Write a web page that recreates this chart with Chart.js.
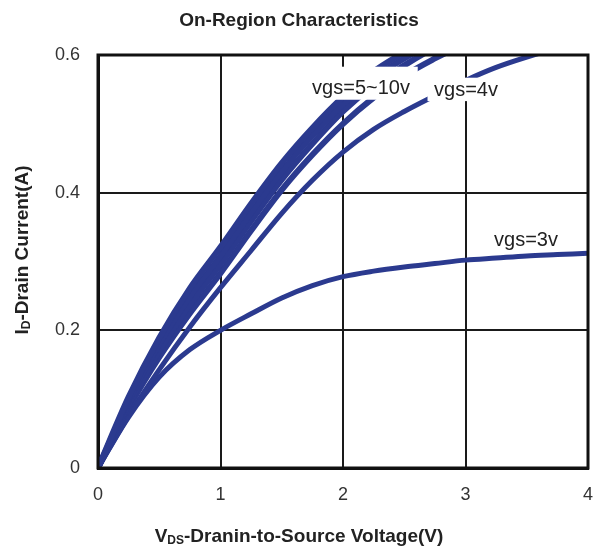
<!DOCTYPE html>
<html>
<head>
<meta charset="utf-8">
<script src="https://cdn.jsdelivr.net/npm/chart.js@4/dist/chart.umd.min.js"></script>
<style>
  html, body { margin: 0; padding: 0; background: #ffffff; }
  #c { display: block; }
</style>
</head>
<body>
<canvas id="c" width="599" height="546"></canvas>
<script>
// ---- data ----
const vds    = [0, 0.25, 0.5, 0.75, 1, 1.25, 1.5, 1.75, 2, 2.25, 2.5, 2.75, 3, 3.25, 3.5, 3.75, 4];
const vgs10  = [0, 0.103, 0.189, 0.261, 0.321, 0.384, 0.443, 0.494, 0.539, 0.576, 0.604, 0.628, 0.650];
const vgs8   = [0, 0.098, 0.180, 0.249, 0.308, 0.371, 0.431, 0.483, 0.528, 0.566, 0.595, 0.619, 0.641];
const vgs6   = [0, 0.092, 0.170, 0.237, 0.296, 0.359, 0.419, 0.471, 0.518, 0.556, 0.585, 0.611, 0.633];
const vgs5   = [0, 0.087, 0.161, 0.225, 0.283, 0.345, 0.404, 0.455, 0.500, 0.538, 0.570, 0.595, 0.617];
const vgs4   = [0, 0.076, 0.143, 0.205, 0.262, 0.316, 0.370, 0.418, 0.459, 0.492, 0.518, 0.541, 0.563, 0.582, 0.597, 0.610, 0.622];
const vgs3   = [0, 0.074, 0.132, 0.172, 0.200, 0.224, 0.247, 0.265, 0.278, 0.286, 0.292, 0.297, 0.302, 0.305, 0.308, 0.310, 0.312];
const xTicks = ['0', '1', '2', '3', '4'];
const yTicks = ['0', '0.2', '0.4', '0.6'];
const curveLabels = ['vgs=5~10v', 'vgs=4v', 'vgs=3v'];
const titleText = 'On-Region Characteristics';

const BLUE = '#2b3a8f';
function pts(ys) { return ys.map((y, i) => ({ x: vds[i], y: y })); }
function ds(label, ys, w) {
  return {
    label: label, data: pts(ys), borderColor: BLUE, backgroundColor: BLUE,
    borderWidth: w, pointRadius: 0, fill: false, clip: 0,
    cubicInterpolationMode: 'monotone'
  };
}

const FONT = '"Liberation Sans", Arial, sans-serif';

function drawParts(ctx, parts, cx, cy) {
  let total = 0;
  parts.forEach(p => { ctx.font = p.f; p.w = ctx.measureText(p.t).width; total += p.w; });
  let x = cx - total / 2;
  ctx.textAlign = 'left';
  ctx.textBaseline = 'alphabetic';
  parts.forEach(p => { ctx.font = p.f; ctx.fillText(p.t, x, cy + (p.dy || 0)); x += p.w; });
}

const decor = {
  id: 'decor',
  afterDatasetsDraw(chart) {
    const { ctx, chartArea: a, scales } = chart;
    ctx.save();
    // frame
    ctx.strokeStyle = '#111';
    ctx.lineWidth = 3;
    ctx.strokeRect(a.left, a.top, a.right - a.left, a.bottom - a.top);
    // curve labels with white boxes
    const xs = scales.x, ys = scales.y;
    const boxes = [
      { t: curveLabels[0], x: 2.147, y: 0.551, bx0: 1.69, bx1: 2.61, by0: 0.583, by1: 0.535 },
      { t: curveLabels[1], x: 3.004, y: 0.549, bx0: 2.69, bx1: 3.32, by0: 0.567, by1: 0.533 },
      { t: curveLabels[2], x: 3.494, y: 0.330, bx0: null }
    ];
    boxes.forEach(b => {
      if (b.bx0 !== null) {
        ctx.fillStyle = '#ffffff';
        const X0 = xs.getPixelForValue(b.bx0), X1 = xs.getPixelForValue(b.bx1);
        const Y0 = ys.getPixelForValue(b.by0), Y1 = ys.getPixelForValue(b.by1);
        ctx.fillRect(X0, Y0, X1 - X0, Y1 - Y0);
      }
      ctx.fillStyle = '#222';
      ctx.font = '20px ' + FONT;
      ctx.textAlign = 'center';
      ctx.textBaseline = 'middle';
      ctx.fillText(b.t, xs.getPixelForValue(b.x), ys.getPixelForValue(b.y));
    });
    ctx.restore();
  },
  afterDraw(chart) {
    const ctx = chart.ctx;
    ctx.save();
    ctx.fillStyle = '#222';
    // main title
    ctx.font = 'bold 19px ' + FONT;
    ctx.textAlign = 'center';
    ctx.textBaseline = 'middle';
    ctx.fillText(titleText, 299, 21);
    // x axis title with subscript
    drawParts(ctx, [
      { t: 'V', f: 'bold 19px ' + FONT },
      { t: 'DS', f: 'bold 12px ' + FONT, dy: 2 },
      { t: '-Dranin-to-Source Voltage(V)', f: 'bold 19px ' + FONT }
    ], 299, 542);
    // y axis title, rotated
    ctx.translate(28, 250);
    ctx.rotate(-Math.PI / 2);
    drawParts(ctx, [
      { t: 'I', f: 'bold 19px ' + FONT },
      { t: 'D', f: 'bold 12px ' + FONT, dy: 2 },
      { t: '-Drain Current(A)', f: 'bold 19px ' + FONT }
    ], 0, 0);
    ctx.restore();
  }
};

new Chart(document.getElementById('c'), {
  type: 'line',
  data: {
    datasets: [
      ds('vgs=10v', vgs10, 6),
      ds('vgs=8v', vgs8, 6),
      ds('vgs=6v', vgs6, 6),
      ds('vgs=5v', vgs5, 6),
      ds('vgs=4v', vgs4, 5),
      ds('vgs=3v', vgs3, 5)
    ]
  },
  options: {
    responsive: false,
    animation: false,
    devicePixelRatio: 1,
    layout: { padding: { top: 55, right: 11, left: 0, bottom: 0 } },
    plugins: { legend: { display: false }, tooltip: { enabled: false }, title: { display: false } },
    scales: {
      x: {
        type: 'linear', min: 0, max: 4,
        afterFit(s) { s.height = 78; s.paddingLeft = 0; s.paddingRight = 0; },
        grid: { color: '#1a1a1a', lineWidth: 2, drawTicks: false },
        border: { color: '#111', width: 3 },
        ticks: {
          stepSize: 1, padding: 16, color: '#333',
          font: { family: FONT, size: 18 },
          callback: (v, i) => xTicks[i]
        }
      },
      y: {
        type: 'linear', min: 0, max: 0.6,
        afterFit(s) { s.width = 98; s.paddingTop = 0; s.paddingBottom = 0; },
        grid: { color: '#1a1a1a', lineWidth: 2, drawTicks: false },
        border: { color: '#111', width: 3 },
        ticks: {
          stepSize: 0.2, padding: 18, color: '#333',
          font: { family: FONT, size: 18 },
          callback: (v, i) => yTicks[i]
        }
      }
    }
  },
  plugins: [decor]
});
</script>
</body>
</html>
